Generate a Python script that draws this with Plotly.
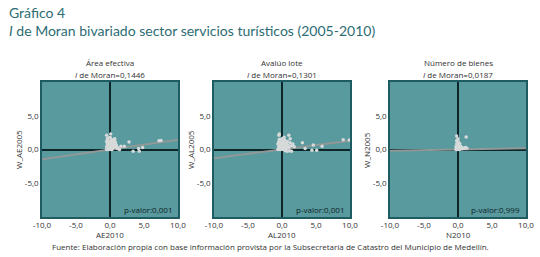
import plotly.graph_objects as go

# ---- data ----
AE2010 = [-0.5,-0.4,-0.3,-0.2,-0.1,0.0,0.1,0.2,0.3,
          -0.5,-0.3,-0.1,0.1,0.3,0.5,
          -0.4,-0.2,0.0,0.2,0.4,0.6,0.8,
          -0.5,-0.3,-0.1,0.1,0.3,0.5,0.7,0.9,1.1,
          -0.4,-0.2,0.0,0.2,0.4,0.6,0.8,1.0,1.2,1.4,
          0.1,-0.5,0.7,0.9,
          1.6,2.1,2.8,3.4,4.2,4.3,4.8,7.2,7.5]
W_AE2005 = [0.0,0.1,0.0,0.05,0.1,0.0,0.05,0.1,0.0,
            0.4,0.5,0.4,0.3,0.4,0.3,
            0.8,0.9,0.8,0.7,0.6,0.5,0.4,
            1.2,1.3,1.2,1.1,1.0,0.9,0.8,0.6,0.3,
            1.6,1.7,1.8,1.5,1.4,1.3,1.1,0.2,0.1,0.0,
            2.3,2.1,1.6,0.7,
            0.5,0.5,1.1,-0.25,0.15,-0.25,0.3,1.3,1.35]

AL2010 = [-0.6,-0.4,-0.2,0.0,0.2,0.4,
          -0.5,-0.3,-0.1,0.1,0.3,0.5,0.7,
          -0.6,-0.4,-0.2,0.0,0.2,0.4,0.6,0.8,1.0,
          -0.5,-0.3,-0.1,0.1,0.3,0.5,0.7,0.9,1.2,1.5,1.8,
          -0.4,0.0,0.4,0.8,1.2,1.6,
          -0.4,-0.45,1.0,1.2,0.3,
          0.5,0.8,1.1,1.4,
          3.0,3.4,4.6,4.4,5.1,5.9,9.0,9.9]
W_AL2005 = [0.0,0.05,0.0,0.1,0.0,0.05,
            0.4,0.5,0.4,0.3,0.4,0.3,0.2,
            0.8,0.9,0.8,0.7,0.6,0.5,0.6,0.4,0.3,
            1.1,1.2,1.3,1.0,1.1,0.9,0.8,0.6,0.5,0.6,0.4,
            1.5,1.6,1.4,1.2,1.0,0.8,
            2.3,2.1,2.1,1.6,1.8,
            -0.2,-0.25,-0.2,-0.25,
            1.0,0.15,0.65,-0.1,-0.1,0.5,1.45,1.4]

N2010 = [-0.3,-0.2,-0.1,0.0,0.1,0.2,0.3,
         -0.3,-0.1,0.1,0.3,0.5,0.7,0.9,1.1,1.3,
         -0.2,0.0,0.2,0.4,
         -0.2,0.0,0.25,
         -0.2,0.0,1.2,0.6,0.9]
W_N2005 = [0.0,0.1,0.0,0.1,0.05,0.0,0.1,
           0.4,0.5,0.4,0.3,0.3,0.2,0.2,0.3,0.2,
           0.8,0.7,0.6,0.5,
           1.3,1.2,0.9,
           2.0,1.6,1.85,0.1,0.2]

panel_titles = ["Área efectiva", "Avalúo lote", "Número de bienes"]
moran_i = [0.1446, 0.1301, 0.0187]
moran_labels = ["0,1446", "0,1301", "0,0187"]
p_values = ["0,001", "0,001", "0,999"]
x_titles = ["AE2010", "AL2010", "N2010"]
y_titles = ["W_AE2005", "W_AL2005", "W_N2005"]
x_tickvals = [-10, -5, 0, 5, 10]
x_ticktext = ["-10,0", "-5,0", "0,0", "5,0", "10,0"]
y_tickvals = [-5, 0, 5]
y_ticktext = ["-5,0", "0,0", "5,0"]

xs = [AE2010, AL2010, N2010]
ys = [W_AE2005, W_AL2005, W_N2005]

# ---- style ----
W, H = 540, 257
BG = "rgb(88,154,158)"
BORDER = "rgb(30,92,98)"
AXIS = "rgb(14,38,40)"
TITLE_C = "rgb(44,108,116)"
TXT = "rgb(50,50,50)"
FONT = "Open Sans"

domains_x = [(42, 178), (214, 350), (390, 526)]
top_px, bot_px = 82, 217
yd = (1 - bot_px / H, 1 - top_px / H)

fig = go.Figure()
annotations = []


def ann(x_px, y_px, text, size=8, color=TXT, family=FONT, xanchor="center",
        angle=0):
    return dict(x=x_px / W, y=1 - y_px / H, xref="paper", yref="paper",
                xanchor=xanchor, yanchor="middle", text=text, showarrow=False,
                textangle=angle, font=dict(family=family, size=size, color=color))


for i in range(3):
    sfx = "" if i == 0 else str(i + 1)
    xa = "x" + sfx
    ya = "y" + sfx
    fig.add_trace(go.Scatter(
        x=[-10, 10], y=[-10 * moran_i[i], 10 * moran_i[i]],
        mode="lines", line=dict(color="rgb(145,152,152)", width=2),
        xaxis=xa, yaxis=ya, showlegend=False, hoverinfo="skip"))
    fig.add_trace(go.Scatter(
        x=xs[i], y=ys[i], mode="markers",
        marker=dict(color="rgb(215,218,218)", size=3.5, line=dict(width=0)),
        xaxis=xa, yaxis=ya, showlegend=False))

    x0, x1 = domains_x[i]
    axis_common = dict(showgrid=False, zeroline=True, zerolinecolor=AXIS,
                       zerolinewidth=2, showline=True, linecolor=BORDER,
                       linewidth=1.5, mirror=True, ticks="", automargin=False,
                       tickfont=dict(family=FONT, size=8, color=TXT),
                       range=[-10, 10], fixedrange=True)
    fig.update_layout(**{
        "xaxis" + sfx: dict(domain=[x0 / W, x1 / W], anchor=ya,
                            tickvals=x_tickvals, ticktext=x_ticktext,
                            **axis_common),
        "yaxis" + sfx: dict(domain=list(yd), anchor=xa,
                            tickvals=y_tickvals, ticktext=y_ticktext,
                            **axis_common),
    })
    cx = (x0 + x1) / 2
    annotations += [
        ann(cx, 62, panel_titles[i]),
        ann(cx, 74, "<i>I</i> de Moran=" + moran_labels[i]),
        ann(cx, 234, x_titles[i]),
        ann(x0 - 24, 150, y_titles[i], angle=-90),
        ann(x1 - 4, 209, "p-valor:" + p_values[i], color="rgb(15,35,38)",
            xanchor="right"),
    ]

annotations += [
    ann(7, 12, "Gráfico 4", size=14, color=TITLE_C, family="Lato",
        xanchor="left"),
    ann(7, 30, "<i>I</i> de Moran bivariado sector servicios turísticos (2005-2010)",
        size=14, color=TITLE_C, family="Lato", xanchor="left"),
    ann(270, 246, "Fuente: Elaboración propia con base información provista por la "
                  "Subsecretaría de Catastro del Municipio de Medellín.", size=8),
]

fig.update_layout(width=W, height=H, margin=dict(l=0, r=0, t=0, b=0,
                                                 autoexpand=False),
                  template="none",
                  paper_bgcolor="white", plot_bgcolor=BG,
                  annotations=annotations, showlegend=False)

fig.write_html("out.html", config={"displayModeBar": False},
               post_script="document.body.style.margin='0';"
                           "document.body.style.overflow='hidden';")
